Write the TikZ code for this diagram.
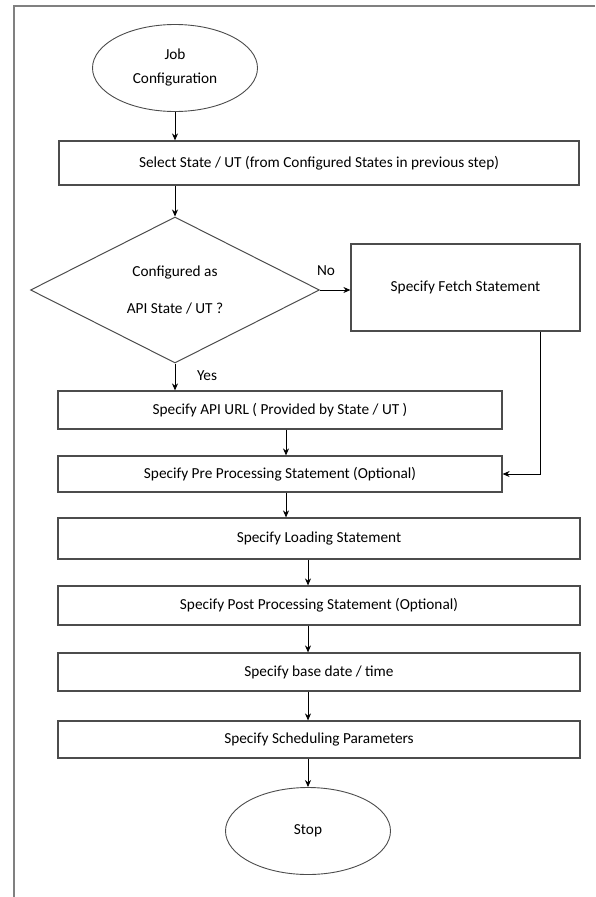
\documentclass[tikz,border=0pt]{standalone}
\usepackage{fontspec}
\setmainfont{Carlito}
\usetikzlibrary{positioning, shapes.geometric, arrows.meta}
\tikzset{
  flowtext/.style={font=\fontsize{15.3}{18}\selectfont, text=black}
}
\tikzset{
  stepbox/.style={flowtext, draw=black!70, line width=1.2pt, inner sep=0pt},
  terminal/.style={flowtext, ellipse, draw=black!70, line width=0.9pt, inner sep=0pt,
    minimum width=165pt, minimum height=87pt, align=center},
  decision/.style={flowtext, diamond, draw=black!70, line width=1pt, inner sep=0pt,
    minimum width=289pt, minimum height=146pt, align=center, shape aspect=2},
  branchtext/.style={flowtext}
}

\begin{document}
\begin{tikzpicture}[x=1pt, y=-1pt, >={Stealth[length=7pt,width=6pt]}, line width=0.8pt]
  \useasboundingbox (0,0) rectangle (595,897);
  % open frame round the chart
  \draw[black!50, line width=1.6pt] (14,897) -- (14,6) -- (595,6);

  \node[terminal] (start) at (175,68) {Job\\[6pt]Configuration};
  \node[stepbox, minimum width=520pt, minimum height=44pt] (select) at (319,163)
    {Select State / UT (from Configured States in previous step)};
  \node[decision] (api) at (175,290) {Configured as\\[19pt]API State / UT ?};
  \node[stepbox, minimum width=229pt, minimum height=87pt] (fetch) at (465.5,287.5)
    {Specify Fetch Statement};
  \node[branchtext] (no) at (326,271) {No};
  \node[branchtext] (yes) at (207,376) {Yes};

  \node[stepbox, minimum width=444pt, minimum height=38pt] (url) at (280,410)
    {Specify API URL ( Provided by State / UT )};
  \node[stepbox, minimum width=444pt, minimum height=36pt] (pre) at (280,474)
    {Specify Pre Processing Statement (Optional)};
  \node[stepbox, minimum width=522pt, minimum height=41pt] (load) at (319,538.5)
    {Specify Loading Statement};
  \node[stepbox, minimum width=522pt, minimum height=39pt] (post) at (319,605.5)
    {Specify Post Processing Statement (Optional)};
  \node[stepbox, minimum width=522pt, minimum height=38pt] (base) at (319,672)
    {Specify base date / time};
  \node[stepbox, minimum width=522pt, minimum height=37pt] (sched) at (319,739.5)
    {Specify Scheduling Parameters};
  \node[terminal] (stop) at (308,831) {Stop};

  % connectors
  \coordinate (upaxis) at (286,0);
  \coordinate (lowaxis) at (308,0);
  \coordinate (bend) at (540,474);
  \draw[->] (start.south) -- (start.south |- select.north);
  \draw[->] (api.north |- select.south) -- (api.north);
  \draw[->] (api.east) -- (fetch.west |- api.east);
  \draw[->] (api.south) -- (api.south |- url.north);
  \draw[->] (fetch.south -| bend) -- (bend) -- (pre.east);
  \draw[->] (url.south -| upaxis) -- (pre.north -| upaxis);
  \draw[->] (pre.south -| upaxis) -- (load.north -| upaxis);
  \draw[->] (load.south -| lowaxis) -- (post.north -| lowaxis);
  \draw[->] (post.south -| lowaxis) -- (base.north -| lowaxis);
  \draw[->] (base.south -| lowaxis) -- (sched.north -| lowaxis);
  \draw[->] (sched.south -| lowaxis) -- (stop.north);
\end{tikzpicture}
\end{document}
